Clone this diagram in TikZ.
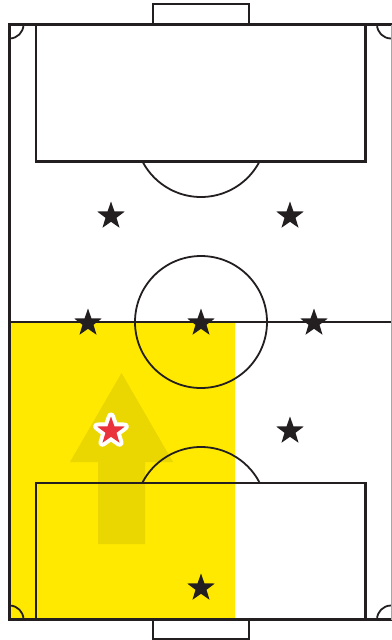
\documentclass[tikz,border=0pt]{standalone}
\usetikzlibrary{shapes.geometric}
\definecolor{pitchline}{RGB}{35,31,32}
\definecolor{zoneyellow}{RGB}{255,233,0}
\definecolor{arrowyellow}{RGB}{234,214,0}
\definecolor{carrierred}{RGB}{233,50,60}

\begin{document}
\begin{tikzpicture}[x=1pt,y=-1pt,
 outer/.style={draw=pitchline,line width=3.4pt},
 marking/.style={draw=pitchline,line width=2.2pt},
 thinline/.style={draw=pitchline,line width=1.8pt},
 player/.style={star,star points=5,star point ratio=2.5,minimum size=29pt,inner sep=0pt,fill=pitchline},
 carrier/.style={star,star points=5,star point ratio=2.5,minimum size=29pt,inner sep=0pt,fill=carrierred,
   preaction={draw=white,line width=8pt,line join=round}}]
\useasboundingbox[fill=white] (0,0) rectangle (391,640);
% highlighted zone and direction of play
\fill[zoneyellow] (9.5,322) rectangle (235,619.5);
\fill[arrowyellow] (98,544) -- (98,462) -- (70,462) -- (121.5,373) -- (173,462) -- (145,462) -- (145,544) -- cycle;
% goals
\draw[marking] (153,24.5) -- (153,4) -- (249,4) -- (249,24.5);
\draw[marking] (153,619.5) -- (153,639) -- (249,639) -- (249,619.5);
% penalty boxes and arcs
\draw[marking] (36,24.5) rectangle (365.5,161.5);
\draw[marking] (36,619.5) rectangle (365.5,483);
\draw[thinline] ([shift={(28:66)}]201,131) arc[start angle=28,end angle=152,radius=66];
\draw[thinline] ([shift={(208:66)}]201,513) arc[start angle=208,end angle=332,radius=66];
% halfway line and centre circle
\draw[thinline,line width=1.5pt] (9.5,322) -- (391,322);
\draw[thinline] (201,322) circle[radius=66];
% corner arcs
\draw[thinline] (23.5,24.5) arc[start angle=0,end angle=90,radius=14];
\draw[thinline] (377,24.5) arc[start angle=180,end angle=90,radius=14];
\draw[thinline] (23.5,619.5) arc[start angle=0,end angle=-90,radius=14];
\draw[thinline] (377,619.5) arc[start angle=180,end angle=270,radius=14];
% touch lines
\draw[outer] (391.5,24.5) -- (9.5,24.5) -- (9.5,619.5) -- (391.5,619.5);
\draw[pitchline!40,line width=1pt] (391,24.5) -- (391,619.5);
% players
\node[player] (p1) at (111,216) {};
\node[player] (p2) at (290,216) {};
\node[player] (p3) at (88,323) {};
\node[player] (p4) at (201,323) {};
\node[player] (p5) at (314,323) {};
\node[player] (p6) at (290,431) {};
\node[player] (p7) at (201,588) {};
\node[carrier] (ball) at (111,431) {};
\end{tikzpicture}
\end{document}
